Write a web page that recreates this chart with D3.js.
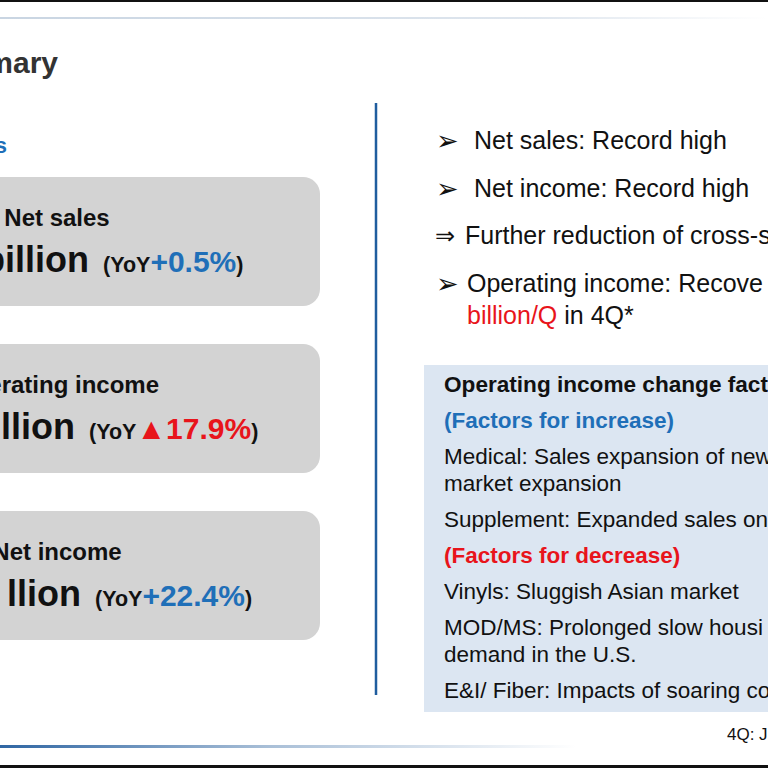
<!DOCTYPE html>
<html>
<head>
<meta charset="utf-8">
<script src="https://cdn.jsdelivr.net/npm/d3@7"></script>
<style>
  html, body { margin: 0; padding: 0; background: #fff; }
  svg { display: block; font-family: "Liberation Sans", Arial, sans-serif; }
</style>
</head>
<body>
<div id="slide"></div>
<script>
// summary cards (left column)
const cardLabels = ['Net sales', 'Operating income', 'Net income'];
const cardValues = ['billion', 'llion', 'llion'];
const cardYoY = ['+0.5%', '▲17.9%', '+22.4%'];

// key points (right column)
const pointMarks = ['➢', '➢', '⇒', '➢'];
const pointTexts = [
  'Net sales: Record high',
  'Net income: Record high',
  'Further reduction of cross-s',
  'Operating income: Recove'
];
const pointTail = ['billion/Q', ' in 4Q*'];

// operating income change factors box
const factorKinds = ['head', 'up', 'item', 'cont', 'item', 'down', 'item', 'item', 'cont', 'item'];
const factorTexts = [
  'Operating income change fact',
  '(Factors for increase)',
  'Medical: Sales expansion of new',
  'market expansion',
  'Supplement: Expanded sales on',
  '(Factors for decrease)',
  'Vinyls: Sluggish Asian market',
  'MOD/MS: Prolonged slow housi',
  'demand in the U.S.',
  'E&I/ Fiber: Impacts of soaring co'
];
const footnote = '4Q: J';

const width = 768;
const height = 768;
const blue = '#1f6fb8';
const red = '#e8141b';

const svg = d3
  .select('#slide')
  .append('svg')
  .attr('width', width)
  .attr('height', height)
  .attr('viewBox', [0, 0, width, height]);

const defs = svg.append('defs');
const topGrad = defs.append('linearGradient').attr('id', 'topGrad');
topGrad.append('stop').attr('offset', '0%').attr('stop-color', '#c9d5e2');
topGrad.append('stop').attr('offset', '70%').attr('stop-color', '#dfe6ee');
topGrad.append('stop').attr('offset', '100%').attr('stop-color', '#ffffff');
const botGrad = defs.append('linearGradient').attr('id', 'botGrad');
botGrad.append('stop').attr('offset', '0%').attr('stop-color', '#2f66a3');
botGrad.append('stop').attr('offset', '35%').attr('stop-color', '#a9bfd7');
botGrad.append('stop').attr('offset', '75%').attr('stop-color', '#ffffff');

// frame lines
svg.append('rect').attr('x', 0).attr('y', 0).attr('width', width).attr('height', 2).attr('fill', '#111');
svg.append('rect').attr('x', 0).attr('y', 17).attr('width', width).attr('height', 2).attr('fill', 'url(#topGrad)');
svg.append('rect').attr('x', 0).attr('y', 745).attr('width', width).attr('height', 3).attr('fill', 'url(#botGrad)');
svg.append('rect').attr('x', 0).attr('y', 765).attr('width', width).attr('height', 3).attr('fill', '#111');

// title
svg.append('text')
  .attr('x', 58).attr('y', 73)
  .attr('text-anchor', 'end')
  .attr('font-size', 30).attr('font-weight', 'bold').attr('fill', '#333')
  .text('Summary');

svg.append('text')
  .attr('x', 7).attr('y', 153)
  .attr('text-anchor', 'end')
  .attr('font-size', 22).attr('font-weight', 'bold').attr('fill', blue)
  .text('s');

// divider
svg.append('line')
  .attr('x1', 376).attr('x2', 376)
  .attr('y1', 103).attr('y2', 695)
  .attr('stroke', '#1f5d9e').attr('stroke-width', 2.5);

// cards
const yCard = d3.scaleBand()
  .domain(cardLabels)
  .range([177, 640])
  .paddingInner(0.228);

const valueRight = [89, 75, 81];

const cards = svg.selectAll('.card')
  .data(cardLabels)
  .join('g')
  .attr('class', 'card')
  .attr('transform', (d) => `translate(0,${yCard(d)})`);

cards.append('rect')
  .attr('x', -30).attr('y', 0)
  .attr('width', 350)
  .attr('height', yCard.bandwidth())
  .attr('rx', 17)
  .attr('fill', '#d3d3d3');

cards.append('text')
  .attr('x', 57).attr('y', 49)
  .attr('text-anchor', 'middle')
  .attr('font-size', 24).attr('font-weight', 'bold').attr('fill', '#111')
  .text((d) => d);

cards.each(function (d, i) {
  const g = d3.select(this);
  g.append('text')
    .attr('x', valueRight[i]).attr('y', 95)
    .attr('text-anchor', 'end')
    .attr('font-size', 36).attr('font-weight', 'bold').attr('fill', '#111')
    .text(cardValues[i]);
  const t = g.append('text')
    .attr('x', valueRight[i] + 14).attr('y', 95)
    .attr('font-weight', 'bold');
  t.append('tspan').attr('font-size', 21.5).attr('fill', '#111').text('(YoY');
  t.append('tspan')
    .attr('font-size', 30)
    .attr('fill', cardYoY[i].startsWith('▲') ? red : blue)
    .text(cardYoY[i]);
  t.append('tspan').attr('font-size', 21.5).attr('fill', '#111').text(')');
});

// key points
const yPoint = d3.scalePoint()
  .domain(d3.range(pointTexts.length))
  .range([149, 292]);

const points = svg.selectAll('.point')
  .data(pointTexts)
  .join('g')
  .attr('class', 'point')
  .attr('transform', (d, i) => `translate(0,${yPoint(i)})`);

points.append('text')
  .attr('x', (d, i) => (pointMarks[i] === '⇒' ? 435 : 436))
  .attr('y', (d, i) => (pointMarks[i] === '⇒' ? 0 : 1))
  .attr('font-family', '"DejaVu Sans", sans-serif')
  .attr('font-size', (d, i) => (pointMarks[i] === '⇒' ? 24 : 27))
  .attr('fill', '#111')
  .text((d, i) => pointMarks[i]);

points.append('text')
  .attr('x', (d, i) => (pointMarks[i] === '⇒' ? 465 : i === 3 ? 467 : 474))
  .attr('y', 0)
  .attr('font-size', 25).attr('fill', '#111')
  .text((d) => d);

const tail = svg.append('text')
  .attr('x', 467).attr('y', 324)
  .attr('font-size', 25);
tail.append('tspan').attr('fill', red).text(pointTail[0]);
tail.append('tspan').attr('fill', '#111').text(pointTail[1]);

// factors box
svg.append('rect')
  .attr('x', 424).attr('y', 365)
  .attr('width', 360).attr('height', 347)
  .attr('fill', '#dce6f2');

// line positions: headings and new items get a full step, continuations a short one
const steps = factorKinds.map((k, i) => (i === 0 ? 0 : k === 'cont' ? 27 : 36));
const offsets = d3.cumsum(steps);
const yFactor = d3.scaleLinear()
  .domain([0, d3.max(offsets)])
  .range([392, 698]);

const factorColor = { head: '#111', up: blue, down: red, item: '#111', cont: '#111' };

svg.selectAll('.factor')
  .data(factorTexts)
  .join('text')
  .attr('class', 'factor')
  .attr('x', 444)
  .attr('y', (d, i) => yFactor(offsets[i]))
  .attr('font-size', (d, i) => (factorKinds[i] === 'head' ? 22.6 : 22.5))
  .attr('font-weight', (d, i) => (['head', 'up', 'down'].includes(factorKinds[i]) ? 'bold' : 'normal'))
  .attr('fill', (d, i) => factorColor[factorKinds[i]])
  .text((d) => d);

svg.append('text')
  .attr('x', 727).attr('y', 740)
  .attr('font-size', 17).attr('fill', '#111')
  .text(footnote);
</script>
</body>
</html>
